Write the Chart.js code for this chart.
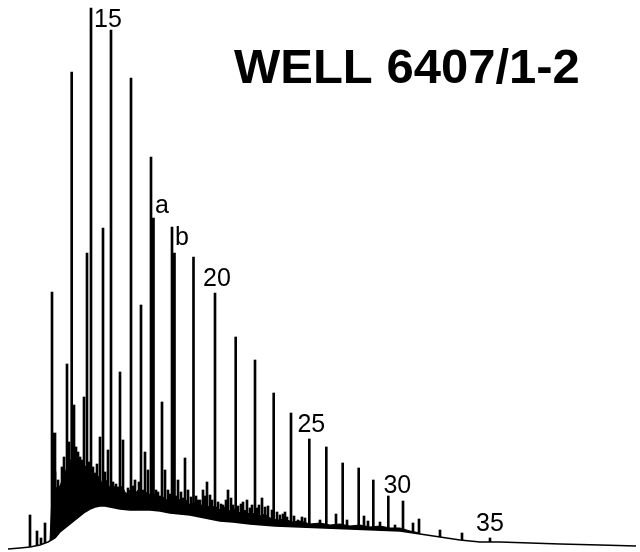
<!DOCTYPE html>
<html>
<head>
<meta charset="utf-8">
<title>Well 6407/1-2</title>
<script src="https://cdn.jsdelivr.net/npm/chart.js@4.4.0/dist/chart.umd.min.js"></script>
<style>
  body { margin: 0; background: #fff; }
  #wrap { width: 640px; height: 552px; position: relative; }
</style>
</head>
<body>
<div id="wrap"><canvas id="gcChart"></canvas></div>
<script>
// n-alkane peaks (retention position, response)
const alkaneRT   = [30, 52, 71.7, 91, 111, 131, 151, 172, 193.5, 215, 235.7, 255, 273.7, 291, 309.3, 326.3, 342.7, 358.7, 373.3, 388.3, 403, 419, 440, 462, 490];
const alkaneResp = [37, 260, 480, 544, 522, 474, 395, 325, 295, 259, 215, 192, 159, 139, 113, 105, 89, 84, 72, 56, 51, 33, 22, 19, 14];

// pristane (a), phytane (b) and the broad shoulder after C12
const isoRT   = [153, 174, 54.5];
const isoResp = [334, 299, 119];

// minor peaks
const minorRT   = [37, 41, 45, 55, 57, 58, 60, 62, 64, 65, 67, 69, 74, 76, 78, 80, 82, 84, 87, 89, 93, 95, 97, 100, 103, 105, 108, 113, 116, 118,
                   120, 123, 126, 128, 133, 135, 137, 139, 141, 143, 145, 148, 150, 156, 158, 160, 162, 165, 168, 170, 176, 178, 181, 183, 185, 188, 191, 196, 198, 200, 203, 205, 207, 210, 212,
                   218, 221, 223, 226, 228, 231, 233, 238, 241, 243, 247, 250, 252, 257, 259, 262, 265, 268, 272, 277, 280, 283, 285, 287, 294, 298, 302, 305, 320, 336, 347, 364, 368, 380, 395, 413];
const minorResp = [21, 14, 29, 80, 64, 72, 65, 85, 95, 79, 188, 110, 147, 105, 100, 95, 92, 155, 299, 90, 85, 79, 88, 115, 324, 80, 102, 70, 68, 65,
                   180, 112, 59, 64, 66, 72, 60, 70, 247, 62, 100, 82, 58, 62, 60, 56, 150, 82, 62, 58, 56, 72, 60, 54, 94, 62, 55, 56, 52, 52, 62, 56, 70, 57, 52,
                   50, 48, 47, 52, 62, 54, 47, 46, 48, 50, 52, 44, 47, 44, 47, 54, 45, 46, 42, 40, 37, 38, 40, 35, 36, 32, 35, 34, 32, 38, 32, 36, 31, 30, 27, 29];

// baseline (lower edge of the hump)
const baseRT   = [8, 20, 30, 40, 48, 55, 60, 65, 70, 75, 80, 85, 90, 95, 100, 105, 110, 120, 130, 140, 150, 160, 170, 180, 190, 200, 210, 220, 233, 250, 275, 300, 325, 350, 375, 400, 420, 440, 460, 480, 500, 530, 560, 600, 636];
const baseResp = [3, 4, 5, 7, 10, 14, 20, 24, 28, 32, 36, 40, 43, 45, 46, 46, 45, 43, 42, 42, 42, 41, 39, 38, 37, 35, 33, 31, 30, 28, 26, 25, 24, 23, 22, 21, 18, 15, 12, 10, 10, 9, 8, 7, 6];

// top of the unresolved band
const bandRT   = [50, 52, 56, 60, 63, 66, 70, 73, 76, 79, 82, 86, 89, 92, 96, 99, 102, 106, 110, 114, 118, 122, 126, 130, 134, 138, 142, 146, 150, 154, 158, 162, 166, 170, 174, 178, 182, 186, 190, 195, 200, 205, 210, 215, 220, 225, 230, 235, 240, 245, 250, 255, 260, 265, 270, 278, 285, 292, 300, 310, 320, 330, 340, 350, 360, 370, 380, 390, 400, 410, 420];
const bandResp = [12, 57, 64, 66, 74, 82, 90, 97, 90, 94, 84, 86, 77, 80, 70, 76, 68, 72, 64, 66, 60, 66, 58, 62, 56, 62, 56, 60, 54, 58, 52, 56, 52, 54, 50, 54, 49, 52, 47, 50, 46, 49, 44, 46, 42, 45, 41, 43, 39, 42, 37, 39, 36, 38, 34, 32, 33, 30, 31, 28, 29, 27, 28, 26, 27, 25, 26, 24, 24, 21, 19];

// peak labels
const labelText = ['15', '20', '25', '30', '35', 'a', 'b'];
const labelRT   = [111, 215, 309.3, 388.3, 490, 153, 174];

const toPoints = (xs, ys) => xs.map((x, i) => ({ x: x, y: ys[i] }));

const allRT = alkaneRT.concat(isoRT, minorRT);
const allResp = alkaneResp.concat(isoResp, minorResp);

// label offsets (px) and gap above peak top
const labelStyle = {
  '15': { dx: -3, gap: 3, align: 'center' },
  '20': { dx: 2, gap: 7, align: 'center' },
  '25': { dx: 2, gap: 7, align: 'center' },
  '30': { dx: 9, gap: 3, align: 'center' },
  '35': { dx: 0, gap: 7, align: 'center' },
  'a':  { dx: 2, gap: 5, align: 'left' },
  'b':  { dx: 1, gap: 8, align: 'left' }
};

const peakLabels = {
  id: 'peakLabels',
  afterDraw(chart) {
    const ctx = chart.ctx;
    const xs = chart.scales.x, ys = chart.scales.y;
    ctx.save();
    ctx.fillStyle = '#000';
    ctx.textBaseline = 'alphabetic';
    ctx.font = '25px "Liberation Sans", Arial, sans-serif';
    labelText.forEach((t, i) => {
      const idx = allRT.indexOf(labelRT[i]);
      const st = labelStyle[t];
      ctx.textAlign = st.align;
      ctx.fillText(t, xs.getPixelForValue(labelRT[i]) + st.dx, ys.getPixelForValue(allResp[idx]) - st.gap);
    });
    // title
    ctx.textAlign = 'left';
    ctx.font = 'bold 49px "Liberation Sans", Arial, sans-serif';
    ctx.fillText('WELL 6407/1-2', chart.chartArea.left + 234, chart.chartArea.top + 83);
    ctx.restore();
  }
};

const ctx = document.getElementById('gcChart').getContext('2d');
new Chart(ctx, {
  type: 'line',
  data: {
    datasets: [
      {
        label: 'baseline',
        data: toPoints(baseRT, baseResp),
        borderColor: '#000',
        borderWidth: 1.5,
        backgroundColor: '#fff',
        fill: 'start',
        pointRadius: 0,
        tension: 0,
        order: 1
      },
      {
        label: 'band',
        data: toPoints(bandRT, bandResp),
        borderColor: '#000',
        borderWidth: 1,
        backgroundColor: '#000',
        fill: 'start',
        pointRadius: 0,
        tension: 0,
        order: 2
      },
      {
        type: 'bar',
        label: 'n-alkanes',
        data: toPoints(alkaneRT, alkaneResp),
        backgroundColor: '#000',
        barThickness: 2,
        grouped: false,
        order: 5
      },
      {
        type: 'bar',
        label: 'isoprenoids',
        data: toPoints(isoRT, isoResp),
        backgroundColor: '#000',
        barThickness: 3,
        grouped: false,
        order: 4
      },
      {
        type: 'bar',
        label: 'minor',
        data: toPoints(minorRT, minorResp),
        backgroundColor: '#000',
        barThickness: 2,
        grouped: false,
        order: 3
      }
    ]
  },
  options: {
    responsive: true,
    maintainAspectRatio: false,
    animation: false,
    layout: { padding: 0 },
    scales: {
      x: { type: 'linear', min: 0, max: 640, display: false, offset: false },
      y: { min: 0, max: 552, display: false }
    },
    plugins: {
      legend: { display: false },
      tooltip: { enabled: false }
    }
  },
  plugins: [peakLabels]
});
</script>
</body>
</html>
